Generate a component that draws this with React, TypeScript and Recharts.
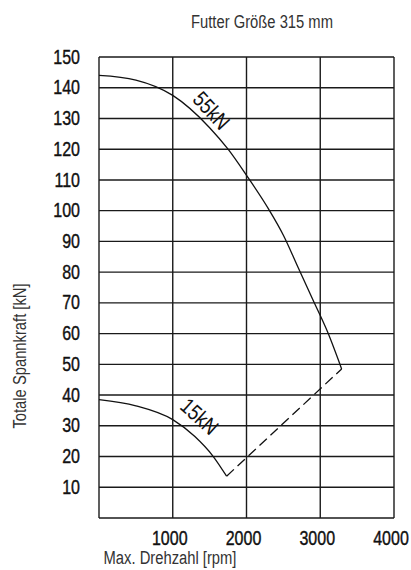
import React from "react";
import { LineChart, Line, XAxis, YAxis, CartesianGrid } from "recharts";

// 55 kN Kurve
const rpm55 = [0, 500, 1000, 1500, 1750, 2000, 2300, 2500, 2700, 2900, 3100, 3290];
const force55 = [144, 142.5, 137.5, 127, 120, 111.5, 100.5, 92, 81.5, 71, 60.5, 48.5];

// 15 kN Kurve
const rpm15 = [0, 500, 1000, 1300, 1550, 1730];
const force15 = [38.5, 36.5, 32, 26.5, 20, 13.6];

// gestrichelte Grenzlinie
const rpmLimit = [1730, 3290];
const forceLimit = [13.6, 48.5];

const xTicks = [0, 1000, 2000, 3000, 4000];
const yTicks = [0, 10, 20, 30, 40, 50, 60, 70, 80, 90, 100, 110, 120, 130, 140, 150];

const toPoints = (xs: number[], ys: number[]) => xs.map((x, i) => ({ x, y: ys[i] }));

const FONT = "'Liberation Sans', Arial, Helvetica, sans-serif";
const NARROW = 0.82;

// schmale Schrift (Helvetica Condensed Ersatz)
const NarrowTick = (props: any) => {
    const { x, y, payload, textAnchor, shift = 0 } = props;
    if (!payload || payload.value === 0) return null;
    return (
        <text
            transform={`translate(${x + shift},${y}) scale(0.8,1)`}
            textAnchor={textAnchor}
            dominantBaseline="central"
            fill="#111"
            stroke="#111"
            strokeWidth={0.4}
            fontSize={20}
            fontFamily={FONT}
        >
            {payload.value}
        </text>
    );
};

const textBox = (left: number, top: number, extra: string, size: number, color: string): React.CSSProperties => ({
    position: "absolute",
    left,
    top,
    transform: `translate(-50%, -50%) ${extra} scaleX(${NARROW})`,
    fontFamily: FONT,
    fontSize: size,
    color,
    whiteSpace: "nowrap",
    lineHeight: 1,
});

export default function App() {
    const d55 = toPoints(rpm55, force55);
    const d15 = toPoints(rpm15, force15);
    const dLimit = toPoints(rpmLimit, forceLimit);

    return (
        <div style={{ position: "relative", width: 411, height: 570, background: "#fff" }}>
            <style>{`body{margin:0}`}</style>

            {/* Titel */}
            <div style={textBox(262, 22, "", 18, "#333")}>Futter Größe 315 mm</div>

            <LineChart
                width={411}
                height={570}
                margin={{ top: 57, right: 17, left: 0, bottom: 22 }}
            >
                <CartesianGrid stroke="#1a1a1a" strokeWidth={1.4} horizontalValues={yTicks} verticalValues={xTicks} />
                <XAxis
                    type="number"
                    dataKey="x"
                    domain={[0, 4000]}
                    ticks={xTicks}
                    axisLine={false}
                    tickLine={false}
                    tickSize={0}
                    tickMargin={20}
                    height={30}
                    tick={(p: any) => <NarrowTick {...p} shift={-3} />}
                    interval={0}
                    allowDataOverflow
                />
                <YAxis
                    type="number"
                    domain={[0, 150]}
                    ticks={yTicks}
                    axisLine={false}
                    tickLine={false}
                    tickSize={0}
                    tickMargin={19}
                    width={99}
                    tick={NarrowTick}
                    interval={0}
                />
                <Line
                    data={d55}
                    dataKey="y"
                    type="monotone"
                    stroke="#111"
                    strokeWidth={1.3}
                    dot={false}
                    isAnimationActive={false}
                />
                <Line
                    data={d15}
                    dataKey="y"
                    type="monotone"
                    stroke="#111"
                    strokeWidth={1.3}
                    dot={false}
                    isAnimationActive={false}
                />
                <Line
                    data={dLimit}
                    dataKey="y"
                    type="linear"
                    stroke="#111"
                    strokeWidth={1.3}
                    strokeDasharray="10 5"
                    dot={false}
                    isAnimationActive={false}
                />
            </LineChart>

            {/* Kurvenbeschriftungen */}
            <div style={textBox(211, 111, "rotate(47deg)", 22, "#111")}>55kN</div>
            <div style={textBox(199, 417, "rotate(42deg)", 22, "#111")}>15kN</div>

            {/* Achsentitel */}
            <div style={textBox(170, 558, "", 18, "#333")}>Max. Drehzahl [rpm]</div>
            <div style={textBox(20, 356, "rotate(-90deg)", 18, "#333")}>Totale Spannkraft [kN]</div>
        </div>
    );
}
